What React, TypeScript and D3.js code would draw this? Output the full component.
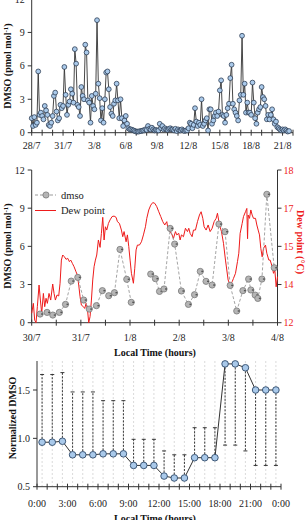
import React from 'react';
import * as d3 from 'd3';

const FONT = "'Liberation Serif', 'Times New Roman', serif";

// ---------- Panel 1: DMSO, one sample every 3 h from 28/7 00:00 ----------
const p1StepDays = 0.125;
const p1Values = [
  1.3, 0.6, 1.4, 0.7, 0.9, 5.5, 1.6, 1.8, 1.5, 1.2,
  2.4, 2.0, 1.6, 0.7, 0.6, 0.9, 1.5, 3.3, 3.6, 1.9,
  1.1, 1.3, 2.5, 2.2, 2.4, 5.9, 3.4, 1.6, 2.5, 2.8,
  3.9, 3.5, 2.7, 7.5, 6.2, 2.5, 2.3, 1.5, 4.1, 3.3,
  3.0, 7.9, 7.2, 2.9, 2.7, 0.9, 3.3, 2.4, 2.1, 3.5,
  10.1, 4.4, 3.1, 1.1, 2.2, 0.9, 3.0, 5.4, 5.5, 3.9,
  2.3, 1.7, 1.5, 2.6, 2.9, 4.4, 2.9, 1.3, 3.0, 1.3,
  0.6, 1.1, 1.5, 0.8,
  0.4, 0.3, 0.3, 0.25, 0.2, 0.15, 0.1, 0.1, 0.1, 0.15,
  0.15, 0.2, 0.2, 0.3, 0.25, 0.6, 0.35, 0.3, 0.45, 0.3,
  0.2, 0.25, 0.2, 0.2, 0.8, 0.4, 0.6, 0.3, 0.4, 0.3,
  0.25, 0.35, 0.4, 0.3, 0.3, 0.2, 0.35, 0.15, 0.3, 0.2,
  0.2, 0.3, 0.2, 0.15, 0.2, 0.2,
  0.4, 0.9, 0.8, 0.4, 0.7, 2.2, 1.0, 0.6, 0.9, 0.7,
  3.0, 0.6, 0.8, 1.1, 1.3, 0.2, 2.1, 2.1, 0.8, 1.1,
  1.5, 1.8, 1.5, 1.9, 3.8, 4.7, 1.6, 1.5, 0.9, 1.6,
  2.2, 2.6, 4.9, 6.1, 2.6, 2.1, 1.8, 1.5, 1.1, 2.9,
  3.4, 8.7, 3.4, 4.4, 1.8, 2.7, 1.8, 1.8, 1.6, 4.5,
  2.7, 1.3, 0.8, 1.8, 2.1, 2.3, 4.1, 3.2, 3.0, 2.4,
  1.2, 1.6, 1.2, 1.6, 2.1, 1.2, 0.8, 1.0, 0.5, 0.4,
  0.3, 0.2, 0.3, 0.2, 0.3, 0.2, 0.1, 0.15,
];
const p1TickDays = [0, 3, 6, 9, 12, 15, 18, 21, 24];
const p1TickLabels = ['28/7', '31/7', '3/8', '6/8', '9/8', '12/8', '15/8', '18/8', '21/8'];
const p1MinorDays = d3.range(0, 26, 1);
const p1YTicks = [0, 3, 6, 9, 12];

// ---------- Panel 2: DMSO and dew point, hours since 30/7 00:00 ----------
const p2DmsoHours = [4.1, 7.5, 10.3, 13.5, 16.5, 19.3, 22.5, 25.4, 28.1, 31.6, 34.5, 37.6, 40.4, 43.1, 46.4, 48.6,
  52.5,
  58.1, 60.4, 62.4, 64.6, 67.6, 69.8, 73.1, 76.5, 79.5, 82.3, 85.1, 88.1, 91.4, 94.4, 96.9, 100.1, 103.1, 105.9,
  107.0, 109.1, 110.4, 112.4, 114.8, 118.4];
const p2DmsoValues: (number | null)[] = [0.68, 0.81, 0.60, 0.81, 1.44, 3.27, 3.56, 1.78, 1.07, 1.34, 2.52, 2.12, 2.36, 5.76, 3.41, 1.60,
  null,
  3.82, 3.46, 2.46, 2.65, 7.41, 6.18, 2.49, 1.44, 2.20, 4.03, 3.25, 2.96, 7.75, 7.15, 2.93, 0.92, 2.52, 3.43,
  2.57, 2.17, 1.91, 3.43, 10.09, 4.32];
const dewHours = [
  0, 0.81, 1.46, 2.11, 2.76, 3.59, 4.24, 4.89, 5.70, 6.35, 7.0, 7.65, 8.46, 9.28, 10.26, 10.91, 11.56, 12.38, 13.19, 13.84,
  14.49, 15.14, 15.96, 16.78, 17.59, 18.4, 19.05, 19.86, 20.68, 21.65, 22.31, 22.96, 23.61, 24.26, 25.24, 25.89, 26.54, 27.19, 27.84, 28.5,
  29.15, 29.8, 30.45, 31.1, 31.75, 32.56, 33.38, 34.03, 34.69, 35.34, 35.99, 36.64, 37.45, 38.26, 39.24, 40.21, 41.2, 41.85, 42.83, 43.8,
  44.45, 45.1, 46.08, 46.73, 47.39, 48.04, 48.69, 49.66, 50.31, 50.96, 51.61, 52.59, 53.58, 54.55, 55.53, 56.18, 57.15, 58.13, 59.1, 60.09,
  61.06, 62.04, 63.01, 63.99, 64.96, 65.95, 66.6, 67.58, 68.55, 69.2, 70.18, 70.83, 71.8, 72.46, 73.11, 74.09, 75.06, 76.04, 76.69, 77.34,
  78.31, 78.98, 79.95, 80.93, 81.9, 82.71, 83.53, 84.18, 85.16, 86.14, 87.11, 88.09, 89.06, 90.04, 90.69, 91.68, 92.65, 93.63, 94.6, 95.25,
  95.9, 96.88, 97.86, 98.51, 99.49, 100.46, 101.11, 101.76, 102.75, 103.4, 104.38, 105.03, 105.38, 105.68, 106.33, 106.98, 107.63, 108.28, 109.26, 109.91,
  110.56, 111.21, 111.86, 112.51, 113.16, 114.14, 114.79, 115.76, 116.41, 117.4, 118.05, 118.7, 119.35, 120,
];
const dewValues = [
  12.37, 12.76, 12.10, 12.0, 12.63, 13.48, 12.89, 12.37, 13.15, 12.63, 12.96, 12.76, 13.15, 12.89, 13.52, 13.15, 12.89, 13.09, 13.05, 13.55,
  14.46, 14.66, 14.59, 14.49, 14.53, 14.40, 14.46, 14.33, 14.20, 14.00, 13.87, 13.48, 13.02, 12.69, 12.63, 12.56, 12.76, 12.56, 12.0, 12.24,
  12.89, 13.68, 14.20, 14.46, 14.66, 15.25, 14.96, 15.51, 16.14, 15.25, 15.77, 15.64, 15.90, 16.04, 16.17, 16.19, 16.14, 15.97, 15.90, 15.64,
  15.38, 15.58, 15.18, 15.45, 14.99, 14.46, 13.94, 13.55, 14.14, 14.86, 15.05, 15.05, 15.18, 15.45, 15.77, 16.10, 16.43, 16.62, 16.72, 16.69,
  16.56, 16.36, 16.17, 15.97, 15.84, 15.97, 15.64, 15.58, 15.45, 15.31, 15.58, 15.45, 15.51, 15.25, 15.45, 15.38, 15.71, 15.58, 15.71, 15.51,
  15.38, 15.64, 15.64, 15.97, 16.23, 16.36, 16.10, 15.77, 15.64, 15.84, 15.58, 15.71, 15.97, 16.10, 16.30, 15.84, 15.58, 15.12, 14.46, 14.07,
  13.68, 13.48, 13.61, 13.74, 13.94, 14.40, 14.73, 15.51, 15.90, 16.17, 16.36, 16.49, 15.30, 16.23, 16.10, 16.43, 16.23, 16.10, 16.10, 15.84,
  15.64, 15.45, 14.92, 14.59, 14.92, 15.05, 14.73, 14.46, 14.46, 14.20, 13.94, 14.07, 13.41, 13.81,
];
const p2TickLabels = ['30/7', '31/7', '1/8', '2/8', '3/8', '4/8'];
const p2MinorHours = d3.range(0, 121, 12);
const p2LeftTicks = [0, 3, 6, 9, 12];
const p2RightTicks = [12, 13.5, 15, 16.5, 18];

// ---------- Panel 3: normalized diel DMSO ----------
const p3Hours = d3.range(0, 24).map(h => h + 0.5);
const p3Values = [0.96, 0.96, 0.97, 0.83, 0.83, 0.83, 0.84, 0.84, 0.84, 0.72, 0.72, 0.72,
  0.61, 0.59, 0.59, 0.80, 0.80, 0.80, 1.77, 1.77, 1.73, 1.50, 1.50, 1.50];
const p3BarEnds = [1.66, 1.66, 1.68, 1.48, 1.48, 1.48, 1.39, 1.39, 1.39, 0.99, 0.99, 0.99,
  0.87, 0.83, 0.83, 1.11, 1.11, 1.11, 0.93, 0.93, 0.87, 0.72, 0.72, 0.72];
const p3TickHours = [0, 3, 6, 9, 12, 15, 18, 21, 24];
const p3TickLabels = ['0:00', '3:00', '6:00', '9:00', '12:00', '15:00', '18:00', '21:00', '0:00'];
const p3YTicks = [0.5, 1.0, 1.5];

const AX = '#333';
const RED = '#ee1b1b';

export default function App() {
  // panel 1 scales
  const x1 = d3.scaleLinear().domain([0, 25]).range([31.7, 293]);
  const y1 = d3.scaleLinear().domain([0, 12]).range([132.7, -1]);
  const p1 = p1Values.map((v, i) => ({ t: i * p1StepDays, v }));
  const line1 = d3.line<{ t: number; v: number }>().x(d => x1(d.t)).y(d => y1(d.v));

  // panel 2 scales
  const x2 = d3.scaleLinear().domain([0, 120]).range([31.7, 277.5]);
  const yL = d3.scaleLinear().domain([0, 12]).range([322.7, 170]);
  const yR = d3.scaleLinear().domain([12, 18]).range([322.7, 170]);
  const dm = p2DmsoHours.map((t, i) => ({ t, v: p2DmsoValues[i] }));
  const lineDm = d3.line<{ t: number; v: number | null }>()
    .defined(d => d.v !== null).x(d => x2(d.t)).y(d => yL(d.v as number));
  const dew = dewHours.map((t, i) => ({ t, v: dewValues[i] }));
  const lineDew = d3.line<{ t: number; v: number }>().x(d => x2(d.t)).y(d => yR(d.v));

  // panel 3 scales
  const x3 = d3.scaleLinear().domain([0, 24]).range([37, 281]);
  const y3 = d3.scaleLinear().domain([0.5, 1.8]).range([486.7, 361]);
  const p3 = p3Hours.map((t, i) => ({ t, v: p3Values[i], e: p3BarEnds[i] }));
  const line3 = d3.line<{ t: number; v: number }>().x(d => x3(d.t)).y(d => y3(d.v));

  const fmt0 = d3.format('.0f');
  const fmt1 = d3.format('.1f');

  const tickText = { fontFamily: FONT, fontSize: 10, fill: '#222' } as const;
  const titleText = { fontFamily: FONT, fontSize: 10, fontWeight: 700, fill: '#111' } as const;

  return (
    <svg width={306} height={520} style={{ position: 'absolute', left: 0, top: 0, background: '#fff' }}>
      {/* ================= Panel 1 ================= */}
      <g>
        <line x1={x1(0)} x2={x1(0)} y1={y1(12)} y2={y1(0)} stroke={AX} />
        <line x1={x1(0)} x2={x1(25)} y1={y1(0)} y2={y1(0)} stroke={AX} />
        {p1YTicks.map(t => (
          <g key={t}>
            <line x1={x1(0) - 4} x2={x1(0)} y1={y1(t)} y2={y1(t)} stroke={AX} />
            <text x={x1(0) - 7} y={y1(t)} dy="0.35em" textAnchor="end" {...tickText}>{t}</text>
          </g>
        ))}
        {p1MinorDays.map(d => (
          <line key={d} x1={x1(d)} x2={x1(d)} y1={y1(0) - 3} y2={y1(0) + 3} stroke={AX} />
        ))}
        {p1TickDays.map((d, i) => (
          <text key={d} x={x1(d)} y={149} textAnchor="middle" {...tickText}>{p1TickLabels[i]}</text>
        ))}
        <path d={line1(p1) || ''} fill="none" stroke="#333" strokeWidth={0.9} />
        {p1.map((d, i) => (
          <circle key={i} cx={x1(d.t)} cy={y1(d.v)} r={2.4} fill="#a9c9ea" stroke="#2f3f55" strokeWidth={0.8} />
        ))}
        <text transform="translate(11,66) rotate(-90)" textAnchor="middle" {...titleText}>
          DMSO (pmol mol<tspan dy={-3} fontSize={7}>-1</tspan><tspan dy={3}>)</tspan>
        </text>
      </g>

      {/* ================= Panel 2 ================= */}
      <g>
        <line x1={x2(0)} x2={x2(0)} y1={yL(12)} y2={yL(0)} stroke={AX} />
        <line x1={x2(120)} x2={x2(120)} y1={yL(12)} y2={yL(0)} stroke={AX} />
        <line x1={x2(0)} x2={x2(120)} y1={yL(0)} y2={yL(0)} stroke={AX} />
        {p2LeftTicks.map(t => (
          <g key={t}>
            <line x1={x2(0) - 4} x2={x2(0)} y1={yL(t)} y2={yL(t)} stroke={AX} />
            <text x={x2(0) - 7} y={yL(t)} dy="0.35em" textAnchor="end" {...tickText}>{t}</text>
          </g>
        ))}
        {p2RightTicks.map(t => (
          <g key={t}>
            <line x1={x2(120)} x2={x2(120) + 4} y1={yR(t)} y2={yR(t)} stroke={AX} />
            <text x={x2(120) + 6} y={yR(t)} dy="0.35em" textAnchor="start" {...tickText} fill={RED}>{fmt0(t)}</text>
          </g>
        ))}
        {p2MinorHours.map(h => (
          <line key={h} x1={x2(h)} x2={x2(h)} y1={yL(0) - 3} y2={yL(0) + 3} stroke={AX} />
        ))}
        {p2TickLabels.map((l, i) => (
          <text key={l} x={x2(i * 24)} y={340.5} textAnchor="middle" {...tickText}>{l}</text>
        ))}
        <path d={lineDew(dew) || ''} fill="none" stroke={RED} strokeWidth={1} />
        <path d={lineDm(dm) || ''} fill="none" stroke="#9a9a9a" strokeWidth={0.9} strokeDasharray="3,2" />
        {dm.filter(d => d.v !== null).map((d, i) => (
          <g key={i}>
            <circle cx={x2(d.t)} cy={yL(d.v as number)} r={3.1} fill="#b5b5b5" stroke="#7a7a7a" strokeWidth={0.8} />
            <line x1={x2(d.t) + 1} x2={x2(d.t) + 3} y1={yL(d.v as number)} y2={yL(d.v as number)} stroke="#555" strokeWidth={1.4} />
          </g>
        ))}
        {/* legend */}
        <line x1={35} x2={56} y1={195} y2={195} stroke="#9a9a9a" strokeDasharray="3,2" />
        <circle cx={46} cy={195} r={3.1} fill="#b5b5b5" stroke="#7a7a7a" strokeWidth={0.8} />
        <text x={61} y={198.5} {...tickText} fontSize={10.5}>dmso</text>
        <line x1={35} x2={56} y1={210.5} y2={210.5} stroke={RED} />
        <text x={61} y={214} {...tickText} fontSize={10.5}>Dew point</text>
        <text transform="translate(11,246) rotate(-90)" textAnchor="middle" {...titleText}>
          DMSO (pmol mol<tspan dy={-3} fontSize={7}>-1</tspan><tspan dy={3}>)</tspan>
        </text>
        <text transform="translate(297,242) rotate(90)" textAnchor="middle" {...titleText} fill={RED}>
          Dew point (°C)
        </text>
        <text x={155} y={356} textAnchor="middle" {...titleText}>Local Time (hours)</text>
      </g>

      {/* ================= Panel 3 ================= */}
      <g>
        {p3.map((d, i) => (
          <line key={i} x1={x3(d.t)} x2={x3(d.t)} y1={y3(1.8)} y2={y3(0.5)} stroke="#d0d0d0" strokeWidth={0.8} strokeDasharray="2,2" />
        ))}
        <line x1={x3(0)} x2={x3(0)} y1={y3(1.8)} y2={y3(0.5)} stroke={AX} />
        <line x1={x3(0)} x2={x3(24)} y1={y3(0.5)} y2={y3(0.5)} stroke={AX} />
        {p3YTicks.map(t => (
          <g key={t}>
            <line x1={x3(0) - 4} x2={x3(0)} y1={y3(t)} y2={y3(t)} stroke={AX} />
            <text x={x3(0) - 7} y={y3(t)} dy="0.35em" textAnchor="end" {...tickText}>{fmt1(t)}</text>
          </g>
        ))}
        {d3.range(0, 25).map(h => (
          <line key={h} x1={x3(h)} x2={x3(h)} y1={y3(0.5) - 3} y2={y3(0.5) + 3} stroke={AX} />
        ))}
        {p3TickHours.map((h, i) => (
          <text key={i} x={x3(h)} y={506.5} textAnchor="middle" {...tickText}>{p3TickLabels[i]}</text>
        ))}
        {p3.map((d, i) => (
          <g key={i}>
            <line x1={x3(d.t)} x2={x3(d.t)} y1={y3(d.v)} y2={y3(d.e)} stroke="#222" strokeWidth={0.9} strokeDasharray="2,1.5" />
            <line x1={x3(d.t) - 2} x2={x3(d.t) + 2} y1={y3(d.e)} y2={y3(d.e)} stroke="#222" strokeWidth={0.9} />
          </g>
        ))}
        <path d={line3(p3) || ''} fill="none" stroke="#333" strokeWidth={1} />
        {p3.map((d, i) => (
          <circle key={i} cx={x3(d.t)} cy={y3(d.v)} r={3.3} fill="#a9c9ea" stroke="#2f4a6a" strokeWidth={0.9} />
        ))}
        <text transform="translate(16,418) rotate(-90)" textAnchor="middle" {...titleText}>Normalized DMSO</text>
        <text x={155} y={522} textAnchor="middle" {...titleText}>Local Time (hours)</text>
      </g>
    </svg>
  );
}
